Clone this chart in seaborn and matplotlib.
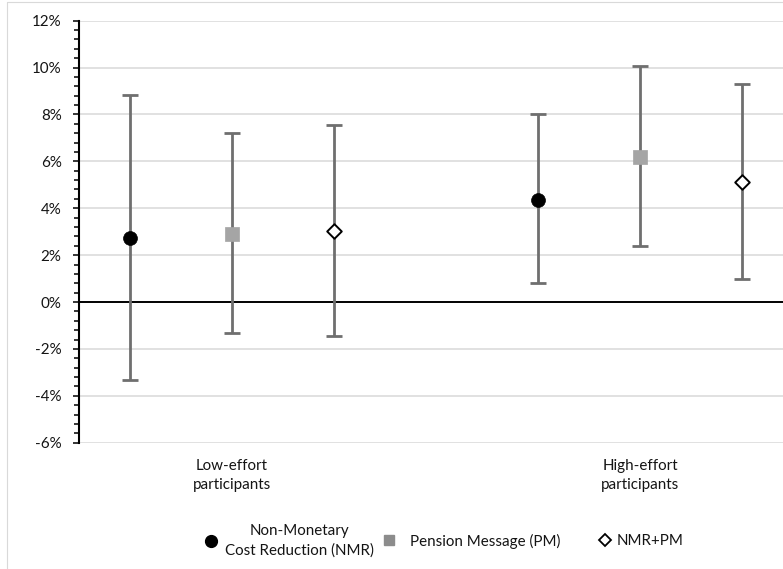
import numpy as np
import pandas as pd
import matplotlib
matplotlib.use("Agg")
import matplotlib.pyplot as plt
from matplotlib.lines import Line2D
from matplotlib.ticker import MultipleLocator, FuncFormatter
import seaborn as sns

# ---- data (percent) ----
groups = ["Low-effort\nparticipants", "High-effort\nparticipants"]
series = ["Non-Monetary\nCost Reduction (NMR)", "Pension Message (PM)", "NMR+PM"]

nmr_est = [2.71, 4.37]
nmr_lo = [-3.32, 0.81]
nmr_hi = [8.82, 8.01]

pm_est = [2.92, 6.18]
pm_lo = [-1.31, 2.40]
pm_hi = [7.19, 10.06]

both_est = [3.05, 5.12]
both_lo = [-1.43, 0.98]
both_hi = [7.56, 9.28]

y_ticks = [-6, -4, -2, 0, 2, 4, 6, 8, 10, 12]

rows = []
for s_i, (name, est, lo, hi) in enumerate(zip(series,
                                               [nmr_est, pm_est, both_est],
                                               [nmr_lo, pm_lo, both_lo],
                                               [nmr_hi, pm_hi, both_hi])):
    for g_i, g in enumerate(groups):
        rows.append(dict(series=name, s_i=s_i, group=g, g_i=g_i,
                         est=est[g_i], lo=lo[g_i], hi=hi[g_i]))
df = pd.DataFrame(rows)
dodge = 0.25
df["x"] = df["g_i"] + (df["s_i"] - 1) * dodge

# ---- style ----
sns.set_theme(style="white")
plt.rcParams["font.family"] = ["Lato", "DejaVu Sans"]
FS = 10.9
TXT = "#141414"

W, H = 783, 569
fig = plt.figure(figsize=(W / 100, H / 100), dpi=100)
ax = fig.add_axes([79 / W, 1 - 442.7 / H, 1 - 79 / W, (442.7 - 20.7) / H])

# frame of the chart area (faint border)
fig.add_artist(Line2D([7 / W, 7 / W], [0, 1 - 2 / H], transform=fig.transFigure,
                      color="#d9d9d9", lw=0.8))
fig.add_artist(Line2D([7 / W, 1], [1 - 2 / H, 1 - 2 / H], transform=fig.transFigure,
                      color="#d9d9d9", lw=0.8))

ax.set_xlim(-0.375, 1.3505)
ax.set_ylim(-6, 12)
ax.set_yticks(y_ticks)
ax.yaxis.set_minor_locator(MultipleLocator(0.4))
ax.yaxis.set_major_formatter(FuncFormatter(lambda v, p: f"{v:.0f}%"))
ax.grid(axis="y", which="major", color="#d9d9d9", lw=1.1, zorder=0)
ax.set_axisbelow(True)
for side in ["top", "right", "bottom"]:
    ax.spines[side].set_visible(False)
ax.spines["left"].set_color("black")
ax.spines["left"].set_linewidth(1.5)
ax.spines["left"].set_zorder(5)
ax.tick_params(axis="y", which="both", direction="out", left=True, color="black",
               width=1.1, labelsize=FS, labelcolor=TXT)
ax.tick_params(axis="y", which="major", length=4.5, pad=8.0)
ax.tick_params(axis="y", which="minor", length=3.5)
ax.axhline(0, color="black", lw=1.4, zorder=1)

ax.set_xticks(range(len(groups)))
ax.set_xticklabels(groups, fontsize=FS, color=TXT, linespacing=1.45)
ax.tick_params(axis="x", length=0, pad=12)
ax.set_xlabel("")
ax.set_ylabel("")

# error bars
ax.errorbar(df["x"], df["est"], yerr=[df["est"] - df["lo"], df["hi"] - df["est"]],
            fmt="none", ecolor="#6f6f6f", elinewidth=2.0, capsize=5.8, capthick=2.0,
            zorder=2)

styles = {
    series[0]: dict(marker="o", color="black", edgecolor="black", s=100, linewidth=0.5),
    series[1]: dict(marker="s", color="#a5a5a5", edgecolor="#a5a5a5", s=105, linewidth=0.5),
    series[2]: dict(marker="D", color="white", edgecolor="black", s=55, linewidth=1.4),
}
for name in series:
    sub = df[df["series"] == name]
    sns.scatterplot(data=sub, x="x", y="est", ax=ax, zorder=4, legend=False,
                    **styles[name])
ax.set_xlabel("")
ax.set_ylabel("")

# legend (three entries placed like the original)
handles = [
    Line2D([], [], ls="none", marker="o", markersize=8.5, mfc="black", mec="black"),
    Line2D([], [], ls="none", marker="s", markersize=7.5, mfc="#8c8c8c", mec="#8c8c8c"),
    Line2D([], [], ls="none", marker="D", markersize=6.5, mfc="white", mec="black", mew=1.3),
]
marker_x = [211, 389, 605]
pads = [0.40, 0.92, 0.30]
hl = 1.0
for h, lab, mx, pad in zip(handles, series, marker_x, pads):
    half = hl * FS * 100 / 72 / 2
    leg = fig.legend([h], [lab], loc="center left",
                     bbox_to_anchor=((mx - half) / W, 1 - 541 / H),
                     frameon=False, fontsize=FS, handlelength=hl,
                     handletextpad=pad, borderpad=0, borderaxespad=0)
    for t in leg.get_texts():
        t.set_multialignment("center")
        t.set_linespacing(1.45)
        t.set_color(TXT)

fig.savefig("out.png", dpi=100)
